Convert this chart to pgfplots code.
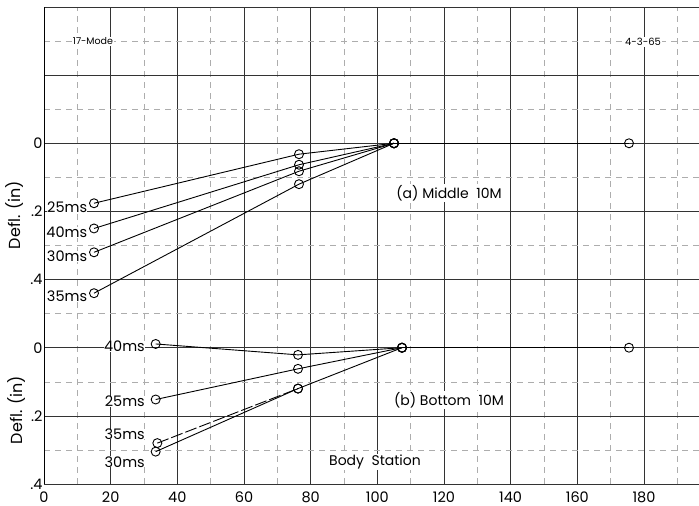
\documentclass[border=0pt]{standalone}
\usepackage{pgfplots}
\pgfplotsset{compat=1.18}
\usepackage{fontspec}
\setmainfont{Poppins}
\begin{document}
\begin{tikzpicture}[x=1pt,y=1pt]
\useasboundingbox (0,0) rectangle (699,506);
\begin{axis}[
  at={(44pt,22pt)}, anchor=south west,
  scale only axis, width=655pt, height=477pt,
  xmin=0, xmax=196.5, ymin=-0.4, ymax=1.0,
  xtick={0,20,40,60,80,100,120,140,160,180},
  xticklabels={0,20,40,60,80,100,120,140,160,180},
  ytick={-0.4,-0.2,0,0.2,0.4,0.6,0.8,1.0},
  yticklabels={.4,.2,0,.4,.2,0,{},{}},
  minor xtick={10,30,50,70,90,110,130,150,170,190},
  minor ytick={-0.3,-0.1,0.1,0.3,0.5,0.7,0.9},
  grid=both,
  major grid style={black!80, line width=0.55pt},
  minor grid style={black!32, line width=0.4pt, dash pattern=on 6pt off 5pt},
  tick style={draw=none},
  axis line style={draw=none},
  ticklabel style={font=\fontsize{14.5}{14.5}\selectfont},
  xticklabel style={yshift=-4pt},
  yticklabel style={xshift=2pt},
  clip=false,
]
% left border
\addplot[black, line width=0.9pt, forget plot] coordinates {(0,-0.4) (0,1.0)};
% (a) Middle 10M : Y = 0.6 - defl
\addplot[black, line width=0.9pt, mark=o, mark size=4.5pt, mark options={solid, fill=white}] coordinates {(15,0.424) (76.5,0.568) (105,0.6)};
\addplot[black, line width=0.9pt, mark=o, mark size=4.5pt, mark options={solid, fill=white}] coordinates {(15,0.35) (76.5,0.537) (105,0.6)};
\addplot[black, line width=0.9pt, mark=o, mark size=4.5pt, mark options={solid, fill=white}] coordinates {(15,0.28) (76.5,0.518) (105,0.6)};
\addplot[black, line width=0.9pt, mark=o, mark size=4.5pt, mark options={solid, fill=white}] coordinates {(15,0.16) (76.5,0.48) (105,0.6)};
\addplot[black, line width=1.2pt, mark=o, mark size=4.5pt, mark options={solid, fill=white, line width=0.9pt}] coordinates {(105,0.6) (175.5,0.6)};
% (b) Bottom 10M : Y = -defl
\addplot[black, line width=0.9pt, mark=o, mark size=4.5pt, mark options={solid, fill=white}] coordinates {(33.5,0.011) (76.2,-0.021) (107.4,0)};
\addplot[black, line width=0.9pt, mark=o, mark size=4.5pt, mark options={solid, fill=white}] coordinates {(33.5,-0.152) (76.2,-0.062) (107.4,0)};
\addplot[black, line width=0.9pt, dash pattern=on 12pt off 3pt, mark=o, mark size=4.5pt, mark options={solid, fill=white}] coordinates {(34,-0.28) (76.2,-0.12)};
\addplot[black, line width=0.9pt, mark=o, mark size=4.5pt, mark options={solid, fill=white}] coordinates {(33.5,-0.305) (76.2,-0.12) (107.4,0)};
\addplot[black, line width=1.2pt, mark=o, mark size=4.5pt, mark options={solid, fill=white, line width=0.9pt}] coordinates {(107.4,0) (175.5,0)};
% series labels
\begin{scope}[every node/.style={font=\fontsize{14.5}{14.5}\selectfont, anchor=east, inner sep=0pt, fill=white}]
\node at (axis cs:13.0,0.412) {25ms};
\node at (axis cs:13.0,0.338) {40ms};
\node at (axis cs:13.0,0.268) {30ms};
\node at (axis cs:13.0,0.150) {35ms};
\node at (axis cs:30.3,0.004) {40ms};
\node at (axis cs:30.3,-0.157) {25ms};
\node at (axis cs:30.3,-0.253) {35ms};
\node at (axis cs:30.3,-0.335) {30ms};
\end{scope}
\node[font=\fontsize{14}{14}\selectfont, fill=white, inner sep=1pt] at (axis cs:121.5,0.454) {(a)\ Middle\ \ 10M};
\node[font=\fontsize{14}{14}\selectfont, fill=white, inner sep=1pt] at (axis cs:121.5,-0.153) {(b) Bottom\ \ 10M};
\node[font=\fontsize{14}{14}\selectfont, fill=white, inner sep=1pt] at (axis cs:99.3,-0.335) {Body\ \ Station};
\node[font=\fontsize{9.5}{9.5}\selectfont, fill=white, inner sep=1pt] at (axis cs:14.7,0.9) {17-Mode};
\node[font=\fontsize{10}{10}\selectfont, fill=white, inner sep=1pt] at (axis cs:179.7,0.897) {4-3-65};
\end{axis}
\node[rotate=90, font=\fontsize{16}{16}\selectfont] at (15,291) {Defl. (in)};
\node[rotate=90, font=\fontsize{16}{16}\selectfont] at (17,96) {Defl. (in)};
\end{tikzpicture}
\end{document}
